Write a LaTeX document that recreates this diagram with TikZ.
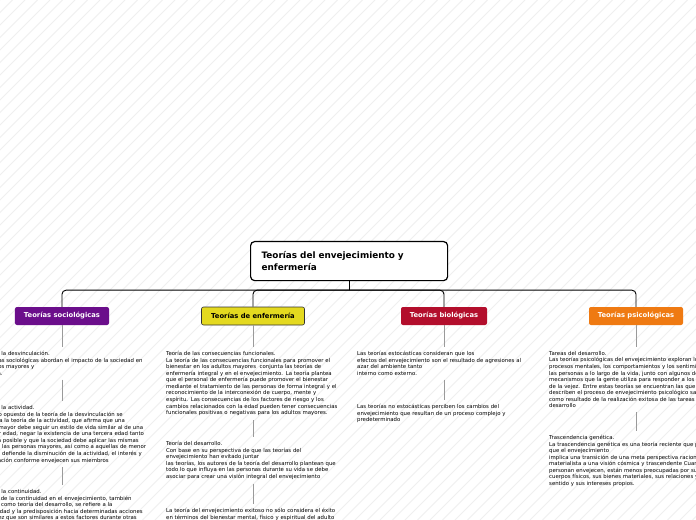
\documentclass[tikz,border=0pt]{standalone}
\usepackage{fontspec}
\setmainfont{DejaVu Sans}
\usetikzlibrary{positioning}
\definecolor{mapSocio}{HTML}{6B0E8B}
\definecolor{mapEnfer}{HTML}{E4D91F}
\definecolor{mapBio}{HTML}{B30E2C}
\definecolor{mapPsico}{HTML}{EF7A12}
\definecolor{mapStem}{HTML}{9A9A9A}
\definecolor{mapHatch}{HTML}{EFEFEF}
\tikzset{
  rootBox/.style={
    draw=black,
    line width=1.2pt,
    rounded corners=4pt,
    fill=white,
    anchor=north west,
    text width=175bp,
    inner xsep=11bp,
    inner ysep=0pt,
    minimum height=39bp,
    align=left,
    font=\fontsize{8.9}{12}\selectfont\bfseries
  },
  topicBox/.style={
    rounded corners=2pt,
    minimum height=18bp,
    inner sep=0pt,
    font=\fontsize{6.8}{7.5}\selectfont\bfseries
  },
  noteText/.style={
    anchor=north west,
    align=left,
    text width=200bp,
    inner sep=2bp,
    font=\fontsize{5.4}{6.6}\selectfont
  },
  branchLine/.style={draw=black, line width=0.9pt, rounded corners=4pt},
  stemLine/.style={draw=mapStem, line width=0.8pt, shorten <=2bp, shorten >=2bp},
  hatchLine/.style={draw=mapHatch, line width=0.8pt}
}

\begin{document}
\begin{tikzpicture}[x=1bp,y=-1bp]
  \useasboundingbox (0,0) rectangle (696,520);
  % background
  \fill[white] (0,0) rectangle (696,520);
  \begin{scope}
    \clip (0,0) rectangle (696,520);
    \foreach \k in {0,...,98}
      \draw[hatchLine] ({12.5*\k-520},520) -- ({12.5*\k},0);
  \end{scope}

  % central topic
  \node[rootBox] (root) at (250,241)
    {Teorías del envejecimiento y\\enfermería};

  % main branches
  \node[topicBox, fill=mapSocio, text=white, minimum width=94bp] (soc) at (62,316)
    {Teorías sociológicas};
  \node[topicBox, fill=mapEnfer, draw=black!80, line width=0.6pt, minimum width=103bp] (enf) at (253,316)
    {Teorías de enfermería};
  \node[topicBox, fill=mapBio, text=white, minimum width=86bp] (bio) at (444,316)
    {Teorías biológicas};
  \node[topicBox, fill=mapPsico, text=white, minimum width=94bp] (psi) at (636,316)
    {Teorías psicológicas};

  \coordinate (hub) at ([yshift=-9bp]root.south);
  \draw[branchLine] (root.south) -- (hub);
  \draw[branchLine] (hub) -| (soc.north);
  \draw[branchLine] (hub) -| (enf.north);
  \draw[branchLine] (hub) -| (bio.north);
  \draw[branchLine] (hub) -| (psi.north);

  % sociologicas
  \node[noteText] (soc1) at (-27,349)
    {Teoría de la desvinculación.\\
    Las teorías sociológicas abordan el impacto de la sociedad en\\
    los adultos mayores y\\
    viceversa.};
  \node[noteText] (soc2) at (-27,403)
    {Teoría de la actividad.\\
    En el lado opuesto de la teoría de la desvinculación se\\
    encuentra la teoría de la actividad, que afirma que una\\
    persona mayor debe seguir un estilo de vida similar al de una\\
    de menor edad, negar la existencia de una tercera edad tanto\\
    como sea posible y que la sociedad debe aplicar las mismas\\
    normas a las personas mayores, así como a aquellas de menor\\
    edad. No defiende la disminución de la actividad, el interés y\\
    la implicación conforme envejecen sus miembros};
  \node[noteText] (soc3) at (-27,487)
    {Teoría de la continuidad.\\
    La teoría de la continuidad en el envejecimiento, también\\
    conocida como teoría del desarrollo, se refiere a la\\
    personalidad y la predisposición hacia determinadas acciones\\
    en la vejez que son similares a estos factores durante otras};

  % enfermeria
  \node[noteText] (enf1) at (164,349)
    {Teoría de las consecuencias funcionales.\\
    La teoría de las consecuencias funcionales para promover el\\
    bienestar en los adultos mayores\ \ conjunta las teorías de\\
    enfermería integral y en el envejecimiento. La teoría plantea\\
    que el personal de enfermería puede promover el bienestar\\
    mediante el tratamiento de las personas de forma integral y el\\
    reconocimiento de la interconexión de cuerpo, mente y\\
    espíritu. Las consecuencias de los factores de riesgo y los\\
    cambios relacionados con la edad pueden tener consecuencias\\
    funcionales positivas o negativas para los adultos mayores.};
  \node[noteText] (enf2) at (164,439)
    {Teoría del desarrollo.\\
    Con base en su perspectiva de que las teorías del\\
    envejecimiento han evitado juntar\\
    las teorías, los autores de la teoría del desarrollo plantean que\\
    todo lo que influya en las personas durante su vida se debe\\
    asociar para crear una visión integral del envejecimiento};
  \node[noteText] (enf3) at (164,506)
    {La teoría del envejecimiento exitoso no sólo considera el éxito\\
    en términos del bienestar mental, físico y espiritual del adulto};

  % biologicas
  \node[noteText] (bio1) at (355,349)
    {Las teorías estocásticas consideran que los\\
    efectos del envejecimiento son el resultado de agresiones al\\
    azar del ambiente tanto\\
    interno como externo.};
  \node[noteText] (bio2) at (355,402)
    {Las teorías no estocásticas perciben los cambios del\\
    envejecimiento que resultan de un proceso complejo y\\
    predeterminado};

  % psicologicas
  \node[noteText] (psi1) at (547,349)
    {Tareas del desarrollo.\\
    Las teorías psicológicas del envejecimiento exploran los\\
    procesos mentales, los comportamientos y los sentimientos de\\
    las personas a lo largo de la vida, junto con algunos de los\\
    mecanismos que la gente utiliza para responder a los retos\\
    de la vejez. Entre estas teorías se encuentran las que\\
    describen el proceso de envejecimiento psicológico saludable\\
    como resultado de la realización exitosa de las tareas del\\
    desarrollo};
  \node[noteText] (psi2) at (547,433)
    {Trascendencia genética.\\
    La trascendencia genética es una teoría reciente que plantea\\
    que el envejecimiento\\
    implica una transición de una meta perspectiva racional y\\
    materialista a una visión cósmica y trascendente Cuando las\\
    personan envejecen, están menos preocupadas por sus\\
    cuerpos físicos, sus bienes materiales, sus relaciones y el\\
    sentido y sus intereses propios.};

  % stems
  \draw[stemLine, shorten <=0pt] (soc.south) -- (soc.south |- soc1.north);
  \draw[stemLine] (soc1.south -| soc.south) -- (soc2.north -| soc.south);
  \draw[stemLine] (soc2.south -| soc.south) -- (soc3.north -| soc.south);
  \draw[stemLine, shorten <=0pt] (enf.south) -- (enf.south |- enf1.north);
  \draw[stemLine] (enf1.south -| enf.south) -- (enf2.north -| enf.south);
  \draw[stemLine] (enf2.south -| enf.south) -- (enf3.north -| enf.south);
  \draw[stemLine, shorten <=0pt] (bio.south) -- (bio.south |- bio1.north);
  \draw[stemLine] (bio1.south -| bio.south) -- (bio2.north -| bio.south);
  \draw[stemLine, shorten <=0pt] (psi.south) -- (psi.south |- psi1.north);
  \draw[stemLine] (psi1.south -| psi.south) -- (psi2.north -| psi.south);
\end{tikzpicture}
\end{document}
